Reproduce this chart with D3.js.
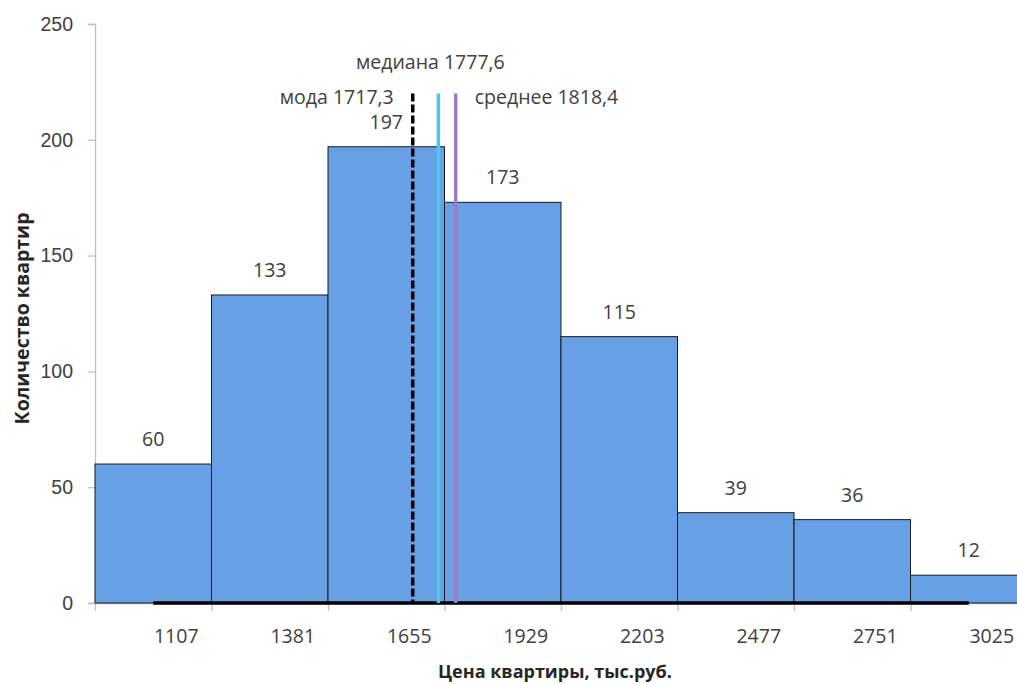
<!DOCTYPE html>
<html>
<head>
<meta charset="utf-8">
<script src="https://cdn.jsdelivr.net/npm/d3@7/dist/d3.min.js"></script>
<style>
  html, body { margin: 0; padding: 0; background: #fff; overflow: hidden; }
  svg { display: block; font-family: "Open Sans", "Noto Sans", sans-serif; }
</style>
</head>
<body>
<svg id="chart" width="1017" height="684"></svg>
<script>
// Interval midpoints (thousand roubles) and flat counts per interval
const midpoints = [1107, 1381, 1655, 1929, 2203, 2477, 2751, 3025];
const counts = [60, 133, 197, 173, 115, 39, 36, 12];
const binWidth = 274;
const yTicks = [0, 50, 100, 150, 200, 250];

// Central tendency markers
const statNames = ["мода", "медиана", "среднее"];
const statValues = [1717.3, 1777.6, 1818.4];
const statColors = ["#000000", "#4cc8ee", "#9b7cc6"];
const statTop = 220;

const svg = d3.select("#chart");
const plot = { left: 95, top: 24, bottom: 603 };

const x0 = midpoints[0] - binWidth / 2;
const x1 = midpoints[midpoints.length - 1] + binWidth / 2;
const x = d3.scaleLinear().domain([x0, x1]).range([plot.left, plot.left + 116.5 * midpoints.length]);
const y = d3.scaleLinear().domain([0, 250]).range([plot.bottom, plot.top]);

const textColor = "#404040";
const axisColor = "#bfbfbf";
const fontSize = "19.5px";

// Y axis
const yAxis = svg.append("g").attr("transform", `translate(${plot.left},0)`)
  .call(d3.axisLeft(y).tickValues(yTicks).tickSize(7).tickPadding(15));
yAxis.select(".domain").attr("stroke", axisColor).attr("stroke-width", 1.3);
yAxis.selectAll(".tick line").attr("stroke", axisColor).attr("stroke-width", 1.3);
yAxis.selectAll(".tick text").attr("fill", textColor).style("font-size", fontSize);

// X axis: tick marks at interval edges, labels near midpoints
const edges = midpoints.map(m => m - binWidth / 2);
const xAxis = svg.append("g").attr("transform", `translate(0,${plot.bottom})`)
  .call(d3.axisBottom(x).tickValues(edges).tickSize(8).tickFormat(""));
xAxis.select(".domain").attr("stroke", axisColor).attr("stroke-width", 1.3)
  .attr("d", `M${plot.left},0.5H1017`);
xAxis.selectAll(".tick line").attr("stroke", axisColor).attr("stroke-width", 1.3);

svg.append("g").selectAll("text").data(midpoints).join("text")
  .attr("x", d => x(d) + 23)
  .attr("y", plot.bottom + 40)
  .attr("text-anchor", "middle")
  .attr("fill", textColor)
  .style("font-size", fontSize)
  .text(d => d);

// Bars
svg.append("g").selectAll("rect").data(counts).join("rect")
  .attr("x", (d, i) => x(midpoints[i] - binWidth / 2))
  .attr("width", (d, i) => x(midpoints[i] + binWidth / 2) - x(midpoints[i] - binWidth / 2))
  .attr("y", d => y(d))
  .attr("height", d => y(0) - y(d))
  .attr("fill", "#67a0e4")
  .attr("stroke", "#1a1a1a")
  .attr("stroke-width", 1);

// Value labels
svg.append("g").selectAll("text").data(counts).join("text")
  .attr("x", (d, i) => x(midpoints[i]))
  .attr("y", d => y(d) - 18)
  .attr("text-anchor", "middle")
  .attr("fill", textColor)
  .style("font-size", fontSize)
  .text(d => d);

// Baseline segment across interval midpoints
svg.append("line")
  .attr("x1", x(midpoints[0])).attr("x2", x(midpoints[midpoints.length - 1]))
  .attr("y1", y(0)).attr("y2", y(0))
  .attr("stroke", "#000").attr("stroke-width", 3.5);

// Mode / median / mean lines
const stats = statNames.map((n, i) => ({ name: n, value: statValues[i], color: statColors[i] }));
svg.append("g").selectAll("line").data(stats).join("line")
  .attr("x1", d => x(d.value)).attr("x2", d => x(d.value))
  .attr("y1", y(statTop)).attr("y2", y(0))
  .attr("stroke", d => d.color)
  .attr("stroke-width", 3.5)
  .attr("stroke-dasharray", (d, i) => i === 0 ? "8,3" : null);

const fmt = v => String(v).replace(".", ",");
const statLabels = svg.append("g").attr("fill", textColor).style("font-size", fontSize);
statLabels.append("text")
  .attr("x", x(stats[0].value) - 19).attr("y", y(statTop) + 11)
  .attr("text-anchor", "end")
  .text(`${stats[0].name} ${fmt(stats[0].value)}`);
statLabels.append("text")
  .attr("x", x(stats[1].value) - 8).attr("y", y(statTop) - 24)
  .attr("text-anchor", "middle")
  .text(`${stats[1].name} ${fmt(stats[1].value)}`);
statLabels.append("text")
  .attr("x", x(stats[2].value) + 19).attr("y", y(statTop) + 11)
  .attr("text-anchor", "start")
  .text(`${stats[2].name} ${fmt(stats[2].value)}`);

// Axis titles
svg.append("text")
  .attr("x", 555).attr("y", 678)
  .attr("text-anchor", "middle")
  .attr("fill", "#262626")
  .style("font-size", "18px").style("font-weight", "bold")
  .text("Цена квартиры, тыс.руб.");
svg.append("text")
  .attr("transform", `translate(29,${(plot.top + plot.bottom) / 2 + 5}) rotate(-90)`)
  .attr("text-anchor", "middle")
  .attr("fill", "#262626")
  .style("font-size", "19.5px").style("font-weight", "bold")
  .text("Количество квартир");
</script>
</body>
</html>
